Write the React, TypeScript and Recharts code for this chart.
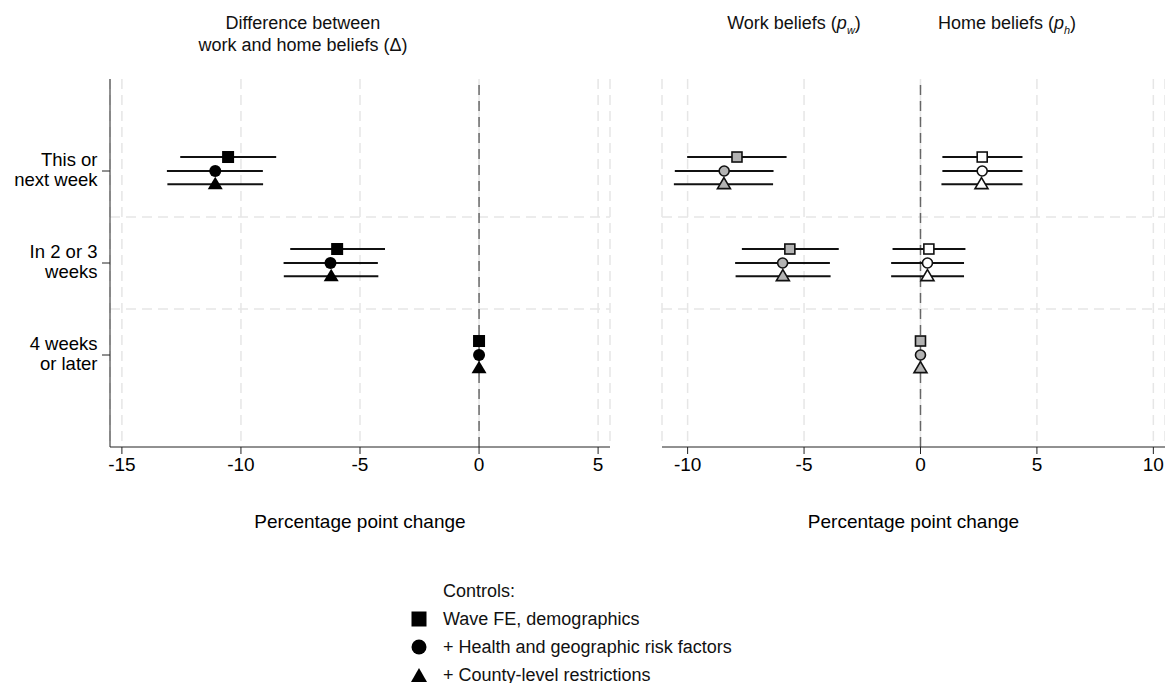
import React from 'react';
import {
  ScatterChart,
  Scatter,
  XAxis,
  YAxis,
  ErrorBar,
  ReferenceLine,
  CartesianGrid,
} from 'recharts';

// categories (rows, top to bottom)
const categories = ['This or\nnext week', 'In 2 or 3\nweeks', '4 weeks\nor later'];
const rowPos = [1, 2, 3];

// left panel: difference between work and home beliefs
const deltaWave = [-10.54, -5.96, 0];
const deltaWaveLo = [-12.55, -7.93, 0];
const deltaWaveHi = [-8.52, -3.95, 0];
const deltaHealth = [-11.08, -6.24, 0];
const deltaHealthLo = [-13.11, -8.21, 0];
const deltaHealthHi = [-9.08, -4.25, 0];
const deltaCounty = [-11.08, -6.21, 0];
const deltaCountyLo = [-13.09, -8.2, 0];
const deltaCountyHi = [-9.07, -4.23, 0];

// right panel: work beliefs
const workWave = [-7.88, -5.61, 0];
const workWaveLo = [-10.02, -7.67, 0];
const workWaveHi = [-5.75, -3.51, 0];
const workHealth = [-8.43, -5.92, 0];
const workHealthLo = [-10.55, -7.96, 0];
const workHealthHi = [-6.31, -3.89, 0];
const workCounty = [-8.44, -5.91, 0];
const workCountyLo = [-10.59, -7.94, 0];
const workCountyHi = [-6.33, -3.86, 0];

// right panel: home beliefs (first two rows)
const homeWave = [2.65, 0.36];
const homeWaveLo = [0.94, -1.2];
const homeWaveHi = [4.38, 1.93];
const homeHealth = [2.65, 0.3];
const homeHealthLo = [0.94, -1.26];
const homeHealthHi = [4.38, 1.87];
const homeCounty = [2.62, 0.3];
const homeCountyLo = [0.9, -1.26];
const homeCountyHi = [4.38, 1.87];

const leftTicks = [-15, -10, -5, 0, 5];
const rightTicks = [-10, -5, 0, 5, 10];
const legendLabels = ['Wave FE, demographics', '+ Health and geographic risk factors', '+ County-level restrictions'];

const FONT = '"Liberation Sans", Arial, Helvetica, sans-serif';
const OFF_SQ = -0.152;
const OFF_TRI = 0.145;
const GRID = '#e6e6e6';

const build = (vals: number[], lo: number[], hi: number[], off: number) =>
  vals.map((v, i) => ({ x: v, y: rowPos[i] + off, err: [v - lo[i], hi[i] - v] }));

const squareShape = (s: number, fill: string, stroke?: string) => (p: any) => (
  <rect x={p.cx - s / 2} y={p.cy - s / 2} width={s} height={s} fill={fill}
    stroke={stroke || 'none'} strokeWidth={stroke ? 1.6 : 0} />
);
const circleShape = (r: number, fill: string, stroke?: string) => (p: any) => (
  <circle cx={p.cx} cy={p.cy} r={r} fill={fill} stroke={stroke || 'none'} strokeWidth={stroke ? 1.6 : 0} />
);
const triShape = (w: number, up: number, down: number, fill: string, stroke?: string) => (p: any) => (
  <path d={`M${p.cx},${p.cy - up}L${p.cx + w / 2},${p.cy + down}L${p.cx - w / 2},${p.cy + down}Z`}
    fill={fill} stroke={stroke || 'none'} strokeWidth={stroke ? 1.6 : 0} strokeLinejoin="miter" />
);

// two-line row labels, right aligned against the y axis
const RowTick = (props: any) => {
  const { x, y, payload } = props;
  const idx = rowPos.indexOf(payload.value);
  const lines = (categories[idx] || '').split('\n');
  return (
    <g>
      <text x={x} y={y - 5.5} textAnchor="end" fill="#000" fontSize={18.5} fontFamily={FONT}>{lines[0]}</text>
      <text x={x} y={y + 14.5} textAnchor="end" fill="#000" fontSize={18.5} fontFamily={FONT}>{lines[1]}</text>
    </g>
  );
};

const bar = (
  <ErrorBar dataKey="err" direction="x" width={0} stroke="#111" strokeWidth={2} isAnimationActive={false} />
);

const xLabel = { value: 'Percentage point change', position: 'bottom' as const, offset: 38, fill: '#000', fontSize: 19, fontFamily: FONT };
const xTick = { fill: '#000', fontSize: 19, fontFamily: FONT };

const LeftPanel = () => (
  <ScatterChart width={620} height={560} margin={{ top: 79, right: 10, left: 0, bottom: 83 }}>
    <CartesianGrid horizontal={false} stroke={GRID} strokeWidth={1.5} strokeDasharray="10 6" />
    <XAxis type="number" dataKey="x" domain={[-15.5, 5.5]} ticks={leftTicks} height={30}
      tick={xTick} tickSize={7} tickMargin={4}
      axisLine={{ stroke: '#222' }} tickLine={{ stroke: '#222' }} label={xLabel} />
    <YAxis type="number" dataKey="y" domain={[0, 4]} reversed ticks={rowPos} width={110}
      tick={<RowTick />} tickSize={8} tickMargin={4.5}
      axisLine={{ stroke: '#222' }} tickLine={{ stroke: '#222' }} />
    <ReferenceLine y={1.5} stroke={GRID} strokeWidth={1.5} strokeDasharray="10 6" />
    <ReferenceLine y={2.5} stroke={GRID} strokeWidth={1.5} strokeDasharray="10 6" />
    <ReferenceLine x={0} stroke="#666" strokeWidth={1.5} strokeDasharray="10 6" />
    <Scatter data={build(deltaWave, deltaWaveLo, deltaWaveHi, OFF_SQ)} shape={squareShape(12, '#000')} isAnimationActive={false}>
      {bar}
    </Scatter>
    <Scatter data={build(deltaHealth, deltaHealthLo, deltaHealthHi, 0)} shape={circleShape(6, '#000')} isAnimationActive={false}>
      {bar}
    </Scatter>
    <Scatter data={build(deltaCounty, deltaCountyLo, deltaCountyHi, OFF_TRI)} shape={triShape(15, 7.5, 4.8, '#000')} isAnimationActive={false}>
      {bar}
    </Scatter>
  </ScatterChart>
);

const RightPanel = () => (
  <ScatterChart width={525} height={560} margin={{ top: 79, right: 0, left: 22, bottom: 83 }}>
    <CartesianGrid horizontal={false} stroke={GRID} strokeWidth={1.5} strokeDasharray="10 6" />
    <XAxis type="number" dataKey="x" domain={[-11.1, 10.5]} ticks={rightTicks} height={30}
      tick={xTick} tickSize={7} tickMargin={4}
      axisLine={{ stroke: '#222' }} tickLine={{ stroke: '#222' }} label={xLabel} />
    <YAxis type="number" dataKey="y" domain={[0, 4]} reversed ticks={rowPos} hide />
    <ReferenceLine y={1.5} stroke={GRID} strokeWidth={1.5} strokeDasharray="10 6" />
    <ReferenceLine y={2.5} stroke={GRID} strokeWidth={1.5} strokeDasharray="10 6" />
    <ReferenceLine x={0} stroke="#666" strokeWidth={1.5} strokeDasharray="10 6" />
    <Scatter data={build(homeWave, homeWaveLo, homeWaveHi, OFF_SQ)} shape={squareShape(10, '#fff', '#111')} isAnimationActive={false}>
      {bar}
    </Scatter>
    <Scatter data={build(homeHealth, homeHealthLo, homeHealthHi, 0)} shape={circleShape(5, '#fff', '#111')} isAnimationActive={false}>
      {bar}
    </Scatter>
    <Scatter data={build(homeCounty, homeCountyLo, homeCountyHi, OFF_TRI)} shape={triShape(13, 6.8, 4.3, '#fff', '#111')} isAnimationActive={false}>
      {bar}
    </Scatter>
    <Scatter data={build(workWave, workWaveLo, workWaveHi, OFF_SQ)} shape={squareShape(10, '#b3b3b3', '#111')} isAnimationActive={false}>
      {bar}
    </Scatter>
    <Scatter data={build(workHealth, workHealthLo, workHealthHi, 0)} shape={circleShape(5, '#b3b3b3', '#111')} isAnimationActive={false}>
      {bar}
    </Scatter>
    <Scatter data={build(workCounty, workCountyLo, workCountyHi, OFF_TRI)} shape={triShape(13, 6.8, 4.3, '#b3b3b3', '#111')} isAnimationActive={false}>
      {bar}
    </Scatter>
  </ScatterChart>
);

const legendIcons = [
  <rect x={0.5} y={0.5} width={15} height={15} fill="#000" />,
  <circle cx={8} cy={8} r={7.5} fill="#000" />,
  <path d="M8,1L16,15L0,15Z" fill="#000" />,
];

const title: React.CSSProperties = {
  position: 'absolute', fontSize: 18, lineHeight: '22px', textAlign: 'center', color: '#111', whiteSpace: 'nowrap',
};

const legendRow: React.CSSProperties = {
  position: 'absolute', height: 28, display: 'flex', alignItems: 'center', fontSize: 18, color: '#111', whiteSpace: 'nowrap',
};

export default function App() {
  return (
    <div style={{ position: 'absolute', left: 0, top: 0, width: 1165, height: 683, background: '#fff', overflow: 'hidden', fontFamily: FONT }}>
      <div style={{ ...title, left: 153, width: 300, top: 12 }}>
        Difference between<br />work and home beliefs (Δ)
      </div>
      <div style={{ ...title, left: 694, width: 200, top: 12 }}>
        Work beliefs (<i>p</i><sub style={{ fontSize: 11 }}><i>w</i></sub>)
      </div>
      <div style={{ ...title, left: 907, width: 200, top: 12 }}>
        Home beliefs (<i>p</i><sub style={{ fontSize: 11 }}><i>h</i></sub>)
      </div>
      <div style={{ position: 'absolute', left: 0, top: 0 }}>
        <LeftPanel />
      </div>
      <div style={{ position: 'absolute', left: 640, top: 0 }}>
        <RightPanel />
      </div>
      <div style={{ ...legendRow, left: 443, top: 577 }}>Controls:</div>
      {legendLabels.map((lab, i) => (
        <div key={lab} style={{ ...legendRow, left: 411, top: 605 + i * 28 }}>
          <svg width={16} height={16} style={{ marginRight: 16 }}>{legendIcons[i]}</svg>
          {lab}
        </div>
      ))}
    </div>
  );
}
